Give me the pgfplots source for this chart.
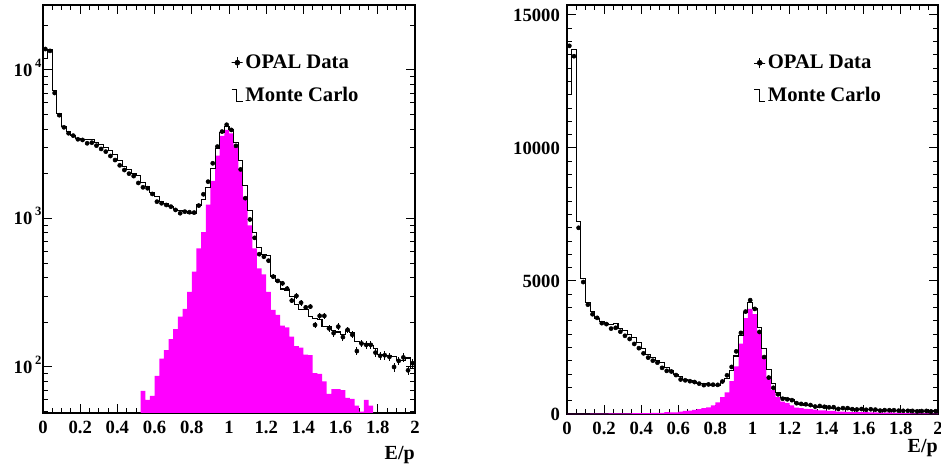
\documentclass[border=0pt]{standalone}
\usepackage{fontspec}
\setmainfont{Liberation Serif}
\usepackage{pgfplots}
\usepackage{pgfplotstable}
\pgfplotsset{compat=1.18}
\definecolor{mag}{RGB}{255,0,255}
\newcommand\tenp[1]{10\kern2pt\smash{\raisebox{6.5pt}{\fontsize{9.5}{9.5}\selectfont #1}}}

\pgfplotstableread{
x mc mag
0.000 12000 2
0.025 13700 3
0.050 7250 5
0.075 5100 7
0.100 4180 9
0.125 3850 11
0.150 3600 13
0.175 3470 15
0.200 3415 17
0.225 3380 19
0.250 3415 21
0.275 3230 23
0.300 3140 25
0.325 3000 27
0.350 2870 29
0.375 2700 31
0.400 2450 34
0.425 2250 37
0.450 2130 40
0.475 2000 43
0.500 1945 46
0.525 1755 69
0.550 1640 60
0.575 1494 64
0.600 1404 87
0.625 1298 114
0.650 1253 130
0.675 1202 154
0.700 1154 180
0.725 1130 218
0.750 1112 246
0.775 1085 320
0.800 1085 438
0.825 1233 630
0.850 1350 810
0.875 1622 1240
0.900 2180 1790
0.925 2950 2650
0.950 3820 3600
0.975 4180 3950
1.000 3980 3750
1.025 3260 3050
1.050 2475 2170
1.075 1660 1380
1.100 1130 900
1.125 803 630
1.150 637 462
1.175 570 420
1.200 560 321
1.225 410 242
1.250 375 224
1.275 335 190
1.300 330 185
1.325 297 160
1.350 264 138
1.375 245 135
1.400 245 121
1.425 218 120
1.450 213 91
1.475 210 90
1.500 187 80
1.525 187 66
1.550 175 71
1.575 172 71
1.600 165 70
1.625 175 62
1.650 170 61
1.675 148 55
1.700 143 50
1.725 143 60
1.750 140 55
1.775 134 40
1.800 122 35
1.825 120 30
1.850 120 28
1.875 117 25
1.900 110 22
1.925 110 20
1.950 115 18
1.975 98 15
2.000 98 15
}\hist

\pgfplotstableread{
x d e
0.0125 13840 82
0.0375 13450 81
0.0625 7000 59
0.0875 4960 49
0.1125 4110 45
0.1375 3750 43
0.1625 3615 42
0.1875 3415 41
0.2125 3380 41
0.2375 3210 40
0.2625 3240 40
0.2875 3095 39
0.3125 2940 38
0.3375 2820 37
0.3625 2635 36
0.3875 2475 35
0.4125 2280 33
0.4375 2120 32
0.4625 2005 31
0.4875 1930 31
0.5125 1735 29
0.5375 1622 28
0.5625 1598 28
0.5875 1463 27
0.6125 1298 25
0.6375 1266 25
0.6625 1233 25
0.6875 1202 24
0.7125 1142 24
0.7375 1085 23
0.7625 1112 23
0.7875 1102 23
0.8125 1096 23
0.8375 1222 24
0.8625 1455 27
0.8875 1770 29
0.9125 2354 34
0.9375 3050 39
0.9625 3850 43
0.9875 4280 46
1.0125 3950 44
1.0375 3085 39
1.0625 2140 32
1.0875 1370 26
1.1125 985 22
1.1375 741 19
1.1625 575 17
1.1875 553 16
1.2125 520 16
1.2375 406 14
1.2625 380 14
1.2875 366 13
1.3125 337 13
1.3375 280 12
1.3625 301 12
1.3875 271 12
1.4125 252 11
1.4375 255 11
1.4625 192 10
1.4875 221 10
1.5125 221 10
1.5375 182 9.4
1.5625 169 9.1
1.5875 187 9.6
1.6125 159 8.8
1.6375 178 9.3
1.6625 165 9
1.6875 128 7.9
1.7125 144 8.4
1.7375 141 8.3
1.7625 141 8.3
1.7875 125 7.8
1.8125 119 7.6
1.8375 120 7.7
1.8625 117 7.6
1.8875 100 7
1.9125 110 7.3
1.9375 116 7.5
1.9625 95 6.8
1.9875 106 7.2
}\data

\pgfplotsset{
  opal/.style={
    scale only axis,
    xmin=0, xmax=2,
    xtick={0,0.2,0.4,0.6,0.8,1,1.2,1.4,1.6,1.8,2},
    xticklabels={0,0.2,0.4,0.6,0.8,1,1.2,1.4,1.6,1.8,2},
    minor x tick num=3,
    tick align=inside, xtick pos=both, ytick pos=both,
    major tick length=6.5pt, minor tick length=3.5pt,
    every tick/.style={black, line width=0.75pt},
    every minor tick/.style={black, line width=0.75pt},
    axis line style={line width=1.3pt},
    ticklabel style={font=\fontsize{14}{14}\selectfont\bfseries},
    xticklabel style={yshift=-2.5pt},
    xlabel={E/p},
    legend cell align=left,
    legend style={anchor=north west, draw=none, fill=none, inner sep=0pt,
      font=\fontsize{15.5}{15.5}\selectfont\bfseries,
      row sep=8.5pt, column sep=0pt,
      nodes={inner xsep=1.75pt, inner ysep=2pt}},
  },
  dataimg/.style={legend image code/.code={
    \path (0pt,0pt) rectangle (8.25pt,0pt);
    \draw[black, line width=0.6pt] (4.3pt,-3.9pt) -- (4.3pt,3.9pt);
    \fill[black] (4.3pt,0pt) circle (1.9pt);}},
  mcimg/.style={legend image code/.code={
    \draw[black, line width=0.75pt] (0pt,4.4pt) -- (4pt,4.4pt) -- (4pt,-4.4pt) -- (8.25pt,-4.4pt);}},
  datapl/.style={only marks, mark=*, mark size=1.55pt, black, forget plot,
    error bars/.cd, y dir=both, y explicit, error mark=none,
    error bar style={line width=0.65pt}},
}

\begin{document}
\begin{tikzpicture}
\path[use as bounding box] (0,0) rectangle (705.75pt,351pt);

\begin{axis}[opal,
  at={(32.25pt,41.25pt)}, anchor=south west,
  width=279pt, height=306pt,
  ymode=log, ymin=49, ymax=27400,
  ytick={100,1000,10000},
  yticklabels={\tenp{2},\tenp{3},\tenp{4}},
  minor ytick={50,60,70,80,90,200,300,400,500,600,700,800,900,2000,3000,4000,5000,6000,7000,8000,9000,20000},
  yticklabel style={inner xsep=0pt, xshift=-1pt},
  xlabel style={at={(axis description cs:1,0)}, anchor=north east, inner sep=0pt, yshift=-25pt, font=\fontsize{15}{15}\selectfont\bfseries},
  legend style={at={(0.505,0.885)}},
]
\addplot[const plot mark left, fill=mag, draw=none, forget plot] table[x=x, y=mag] {\hist} \closedcycle;
\addplot[const plot mark left, black, line width=0.8pt, forget plot] table[x=x, y=mc] {\hist};
\addplot[datapl] table[x=x, y=d, y error=e] {\data};
\addlegendimage{dataimg}
\addlegendentry{OPAL Data}
\addlegendimage{mcimg}
\addlegendentry{Monte Carlo}
\end{axis}

\begin{axis}[opal,
  at={(425.25pt,40.5pt)}, anchor=south west,
  width=278.25pt, height=306.75pt,
  ymin=0, ymax=15375,
  ytick={0,5000,10000,15000},
  yticklabels={0,5000,10000,15000},
  minor y tick num=9,
  yticklabel style={xshift=-1.8pt},
  xlabel style={at={(axis description cs:1,0)}, anchor=north east, inner sep=0pt, yshift=-19pt, font=\fontsize{15}{15}\selectfont\bfseries},
  legend style={at={(0.502,0.885)}},
]
\addplot[const plot mark left, fill=mag, draw=none, forget plot] table[x=x, y=mag] {\hist} \closedcycle;
\addplot[const plot mark left, black, line width=0.8pt, forget plot] table[x=x, y=mc] {\hist};
\addplot[datapl] table[x=x, y=d, y error=e] {\data};
\addlegendimage{dataimg}
\addlegendentry{OPAL Data}
\addlegendimage{mcimg}
\addlegendentry{Monte Carlo}
\end{axis}
\end{tikzpicture}
\end{document}
